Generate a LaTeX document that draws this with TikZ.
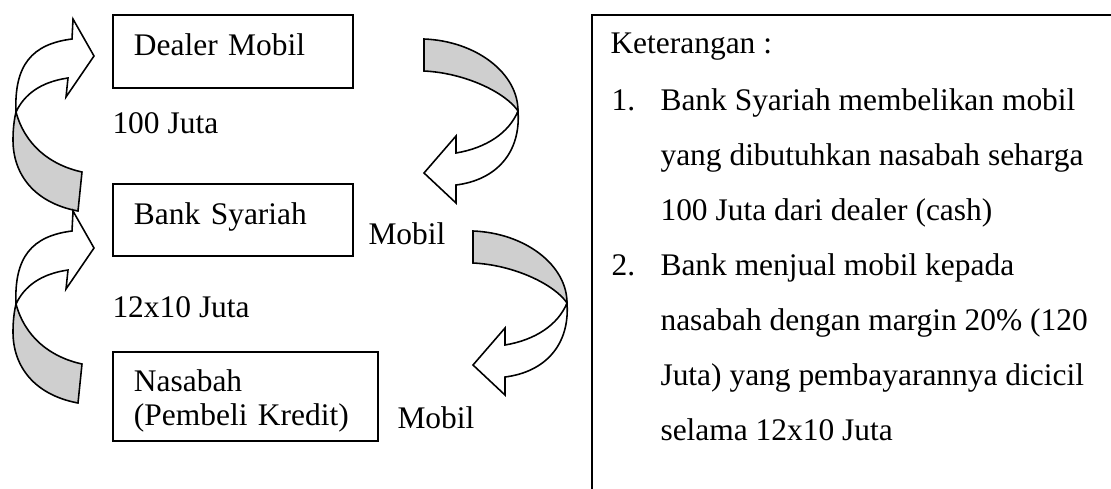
\documentclass[tikz,border=0pt]{standalone}
\usepackage{fontspec}
\setmainfont{Liberation Serif}
\usepackage{tikz}
\definecolor{bandgray}{HTML}{CFCFCF}
\newcommand{\boxstrut}[2]{\rule[-#2]{0pt}{\dimexpr#1+#2\relax}}

\begin{document}
\begin{tikzpicture}[
    x=0.3816pt, y=-0.3816pt, % 1 satuan = 1 piksel gambar acuan
    % Gaya teks
    every node/.style={font=\fontsize{12}{14}\selectfont},
    lbl/.style={anchor=base west, inner sep=0pt},
    % Gaya kotak pelaku
    box/.style={
        draw, line width=0.75pt, anchor=north west,
        align=left, inner xsep=8pt, inner ysep=0pt
    },
    panel/.style={
        draw, line width=0.75pt, anchor=north west,
        minimum width=215pt, minimum height=195pt
    },
    % Gaya panah lengkung
    back/.style={draw, line width=0.6pt, fill=bandgray},
    front/.style={draw, line width=0.6pt, fill=white}
]
    \useasboundingbox (0,0) rectangle (1111,488);
    \clip (0,0) rectangle (1111,488);

    % 1. Kotak pelaku
    \node[box, text width=75.6pt] (dealer) at (112,14) {\boxstrut{15.6pt}{12.2pt}Dealer Mobil};
    \node[box, text width=75.6pt] (bank)   at (112,183) {\boxstrut{15.6pt}{11.8pt}Bank Syariah};
    \node[box, text width=85.1pt, font=\fontsize{12}{13}\selectfont] (nasabah) at (112,351)
        {\rule{0pt}{14.9pt}Nasabah\\\boxstrut{8.3pt}{6.1pt}(Pembeli Kredit)};

    % 2. Label aliran
    \node[lbl] (harga)  at (112,133) {100 Juta};
    \node[lbl] (cicil)  at (112,317) {12x10 Juta};
    \node[lbl] (mobil1) at (368,244) {Mobil};
    \node[lbl] (mobil2) at (397,428) {Mobil};

    % 3. Panah kiri (uang, ke atas)
    \foreach \dy in {0,192} {
        \begin{scope}[shift={(0,\dy)}]
            \draw[back] (13,140) .. controls (13,175) and (35,203) .. (78,211) -- (82,172)
                .. controls (50,165) and (25,145) .. (16,112)
                .. controls (14,120) and (13,130) .. (13,140) -- cycle;
            \draw[front] (16,112) .. controls (14,65) and (32,44) .. (72,39)
                -- (73,19) -- (94,56) -- (66,97) -- (68,78)
                .. controls (40,82) and (24,95) .. (16,112) -- cycle;
        \end{scope}
    }

    % 4. Panah kanan (mobil, ke bawah)
    \foreach \dx/\dy in {-49/-192, 0/0} {
        \begin{scope}[shift={(\dx,\dy)}]
            \draw[back] (473,231) .. controls (525,233) and (567,265) .. (567,303)
                .. controls (555,285) and (515,265) .. (473,263) -- cycle;
            \draw[front] (567,303) .. controls (570,345) and (545,372) .. (505,377)
                -- (505,395) -- (473,365) -- (505,328) -- (505,345)
                .. controls (535,340) and (558,325) .. (567,303) -- cycle;
        \end{scope}
    }

    % 5. Panel keterangan
    \node[panel] (ket) at (591,14) {};
    \node[lbl] (judul) at (610,53) {Keterangan :};
    \node[lbl] (no1) at (611,110) {1.};
    \node[lbl] (no2) at (611,275) {2.};
    \foreach \txt [count=\i from 0] in {
        {Bank Syariah membelikan mobil},
        {yang dibutuhkan nasabah seharga},
        {100 Juta dari dealer (cash)},
        {Bank menjual mobil kepada},
        {nasabah dengan margin 20\% (120},
        {Juta) yang pembayarannya dicicil},
        {selama 12x10 Juta}}
        \node[lbl] (baris\i) at (660,{110+55*\i}) {\txt};

\end{tikzpicture}
\end{document}
